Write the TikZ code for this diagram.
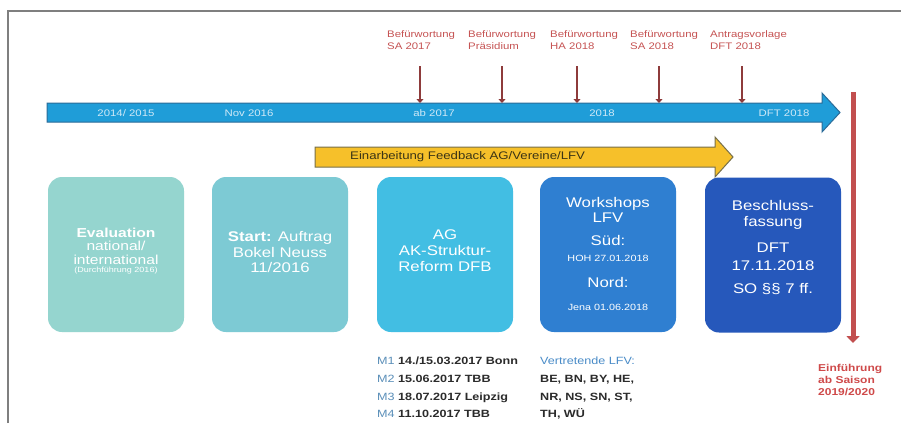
\documentclass[tikz,border=0pt]{standalone}
\usepackage{fontspec}
\setmainfont[FakeStretch=1.2]{Liberation Sans}
\usetikzlibrary{arrows.meta}
\definecolor{framegray}{HTML}{7F7F7F}
\definecolor{tlfill}{HTML}{1F9DD8}
\definecolor{tldraw}{HTML}{2B6C99}
\definecolor{tlword}{HTML}{CFE9F7}
\definecolor{markred}{HTML}{8E3B3B}
\definecolor{labred}{HTML}{C65454}
\definecolor{yfill}{HTML}{F6C02A}
\definecolor{ydraw}{HTML}{77704A}
\definecolor{yword}{HTML}{3B3415}
\definecolor{cA}{HTML}{95D5CF}
\definecolor{cB}{HTML}{7DCAD4}
\definecolor{cC}{HTML}{42BEE3}
\definecolor{cD}{HTML}{2F7FD1}
\definecolor{cE}{HTML}{2658BB}
\definecolor{mblue}{HTML}{5B8FB9}
\definecolor{lfvblue}{HTML}{4A8CC8}
\definecolor{listtext}{HTML}{2B2B2B}
\definecolor{endred}{HTML}{C24F4F}
\definecolor{endword}{HTML}{CF4A4A}
\tikzset{
  stagebox/.style={rounded corners=14pt, minimum width=136pt, minimum height=155pt, inner sep=0pt},
  boxtext/.style={text=white, align=center, inner sep=0pt, font=\fontsize{14}{16}\selectfont},
  tinytext/.style={text=white, inner sep=0pt, font=\fontsize{9}{10}\selectfont},
  toplabel/.style={text=labred, align=left, anchor=north west, inner sep=0pt, font=\fontsize{9.5}{12}\selectfont},
  tlabel/.style={text=tlword, inner sep=0pt, font=\fontsize{9.5}{10}\selectfont},
  marker/.style={draw=markred, line width=2.5pt, -{Triangle[length=4pt,width=7pt]}},
  listnode/.style={anchor=north west, align=left, inner sep=0pt, text=listtext, font=\fontsize{10.5}{17.7}\selectfont\bfseries},
}
\begin{document}
\begin{tikzpicture}[x=1pt,y=-1pt]
\useasboundingbox (0,0) rectangle (901,423);
\fill[white] (0,0) rectangle (901,423);

% frame
\draw[framegray, line width=1.5pt] (8,423) -- (8,11) -- (901,11);

% main timeline arrow
\draw[fill=tlfill, draw=tldraw, line width=1pt, line join=miter]
  (47,103) -- (822,103) -- (822,93) -- (840,112.5) -- (822,132) -- (822,122) -- (47,122) -- cycle;
\node[tlabel] (y1) at (126,113) {2014/ 2015};
\node[tlabel] (y2) at (249,113) {Nov 2016};
\node[tlabel] (y3) at (434,113) {ab 2017};
\node[tlabel] (y4) at (602,113) {2018};
\node[tlabel] (y5) at (784,113) {DFT 2018};

% milestone labels
\node[toplabel] (l1) at (387,30) {Befürwortung\\SA 2017};
\node[toplabel] (l2) at (468,30) {Befürwortung\\Präsidium};
\node[toplabel] (l3) at (550,30) {Befürwortung\\HA 2018};
\node[toplabel] (l4) at (630,30) {Befürwortung\\SA 2018};
\node[toplabel] (l5) at (710,30) {Antragsvorlage\\DFT 2018};

% milestone markers
\foreach \i/\x in {1/420,2/502,3/577,4/659,5/742}{
  \coordinate (m\i s) at (\x,66);
  \coordinate (m\i e) at (\x,103);
  \draw[marker] (m\i s) -- (m\i e);
}

% feedback arrow
\draw[fill=yfill, draw=ydraw, line width=1pt, line join=miter]
  (315,147) -- (715,147) -- (715,137) -- (733,157) -- (715,177) -- (715,167) -- (315,167) -- cycle;
\node[anchor=west, inner sep=0pt, text=yword, font=\fontsize{11}{12}\selectfont] (fb) at (350,157) {Einarbeitung Feedback AG/Vereine/LFV};

% stage boxes
\node[stagebox, fill=cA] (b1) at (116,254.5) {};
\node[stagebox, fill=cB] (b2) at (280,254.5) {};
\node[stagebox, fill=cC] (b3) at (445,254.5) {};
\node[stagebox, fill=cD] (b4) at (608,254.5) {};
\node[stagebox, fill=cE] (b5) at (773,255) {};

% box texts
\node[boxtext, font=\fontsize{13}{13.5}\selectfont] (b1t) at (116,246) {\textbf{Evaluation}\\national/\\international};
\node[tinytext, font=\fontsize{7.5}{8}\selectfont] (b1s) at (116,271) {(Durchführung 2016)};
\node[boxtext, font=\fontsize{14}{15.5}\selectfont] (b2t) at (280,252) {\textbf{Start:} Auftrag\\Bokel Neuss\\11/2016};
\node[boxtext] (b3t) at (445,251) {AG\\AK-Struktur-\\Reform DFB};
\node[boxtext, font=\fontsize{14}{15}\selectfont] (b4a) at (608,209.5) {Workshops\\LFV};
\node[boxtext] (b4b) at (608,240) {Süd:};
\node[tinytext] (b4c) at (608,258) {HOH 27.01.2018};
\node[boxtext] (b4d) at (608,282) {Nord:};
\node[tinytext] (b4e) at (608,307) {Jena 01.06.2018};
\node[boxtext] (b5a) at (773,215) {Beschluss-\\fassung};
\node[boxtext, font=\fontsize{14}{18}\selectfont] (b5b) at (773,257) {DFT\\17.11.2018};
\node[boxtext] (b5c) at (773,289) {SO §§ 7 ff.};

% notes below the boxes
\node[listnode] (ml) at (377,357) {%
  {\mdseries\color{mblue}M1} 14./15.03.2017 Bonn\\
  {\mdseries\color{mblue}M2} 15.06.2017 TBB\\
  {\mdseries\color{mblue}M3} 18.07.2017 Leipzig\\
  {\mdseries\color{mblue}M4} 11.10.2017 TBB};
\node[listnode] (lfv) at (540,357) {%
  {\mdseries\color{lfvblue}Vertretende LFV:}\\
  BE, BN, BY, HE,\\
  NR, NS, SN, ST,\\
  TH, WÜ};

% introduction marker
\coordinate (es) at (853,92);
\coordinate (ee) at (853,343);
\draw[draw=endred, line width=5pt, -{Triangle[length=7pt,width=13pt]}] (es) -- (ee);
\node[anchor=north west, align=left, inner sep=0pt, text=endword, font=\fontsize{10}{12}\selectfont\bfseries] (ein) at (818,364) {Einführung\\ab Saison\\2019/2020};
\end{tikzpicture}
\end{document}
